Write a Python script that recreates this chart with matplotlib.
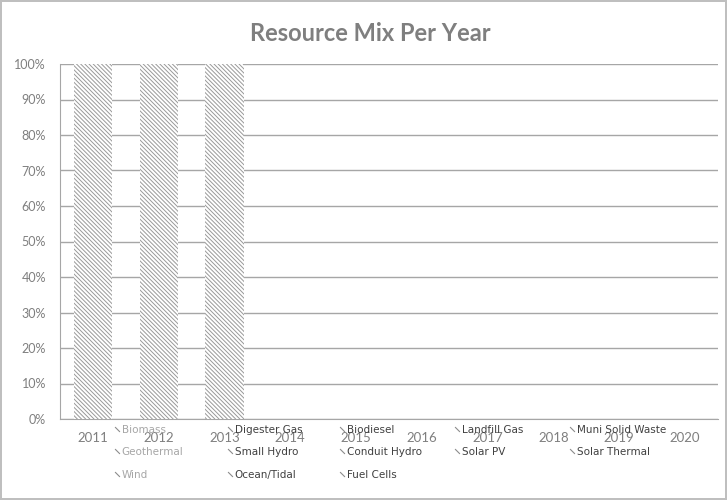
import matplotlib.pyplot as plt
import numpy as np
from matplotlib.lines import Line2D

years = ["2011", "2012", "2013", "2014", "2015", "2016", "2017", "2018", "2019", "2020"]
resources = ["Biomass", "Digester Gas", "Biodiesel", "Landfill Gas", "Muni Solid Waste",
             "Geothermal", "Small Hydro", "Conduit Hydro", "Solar PV", "Solar Thermal",
             "Wind", "Ocean/Tidal", "Fuel Cells"]
# share of each resource per year (%); only 2011-2013 reported
biomass = [0, 0, 0, 0, 0, 0, 0, 0, 0, 0]
digester_gas = [0, 0, 0, 0, 0, 0, 0, 0, 0, 0]
biodiesel = [0, 0, 0, 0, 0, 0, 0, 0, 0, 0]
landfill_gas = [0, 0, 0, 0, 0, 0, 0, 0, 0, 0]
muni_solid_waste = [0, 0, 0, 0, 0, 0, 0, 0, 0, 0]
geothermal = [0, 0, 0, 0, 0, 0, 0, 0, 0, 0]
small_hydro = [100, 100, 100, 0, 0, 0, 0, 0, 0, 0]
conduit_hydro = [0, 0, 0, 0, 0, 0, 0, 0, 0, 0]
solar_pv = [0, 0, 0, 0, 0, 0, 0, 0, 0, 0]
solar_thermal = [0, 0, 0, 0, 0, 0, 0, 0, 0, 0]
wind = [0, 0, 0, 0, 0, 0, 0, 0, 0, 0]
ocean_tidal = [0, 0, 0, 0, 0, 0, 0, 0, 0, 0]
fuel_cells = [0, 0, 0, 0, 0, 0, 0, 0, 0, 0]

series = [biomass, digester_gas, biodiesel, landfill_gas, muni_solid_waste,
          geothermal, small_hydro, conduit_hydro, solar_pv, solar_thermal,
          wind, ocean_tidal, fuel_cells]

plt.rcParams['font.family'] = ['Lato', 'DejaVu Sans']
plt.rcParams['hatch.linewidth'] = 0.7

fig = plt.figure(figsize=(7.27, 5.0), dpi=100)
fig.patch.set_edgecolor('#bfbfbf')
fig.patch.set_linewidth(1.5)
ax = fig.add_axes([0.0825, 0.162, 0.905, 0.71])

x = np.arange(len(years))
bottom = np.zeros(len(years))
for name, vals in zip(resources, series):
    vals = np.array(vals, dtype=float)
    ax.bar(x, vals, 0.58, bottom=bottom, color='white', hatch="\\" * 8,
           edgecolor='#999999', linewidth=0, zorder=3)
    bottom += vals

ax.set_xlim(-0.5, len(years) - 0.5)
ax.set_ylim(0, 100)
ax.set_yticks(range(0, 101, 10))
ax.set_yticklabels([f"{v}%" for v in range(0, 101, 10)], fontsize=9, color='#7f7f7f')
ax.set_xticks(x)
ax.set_xticklabels(years, fontsize=9.5, color='#7f7f7f')
ax.tick_params(length=0)
ax.tick_params(axis='y', pad=10)
ax.tick_params(axis='x', pad=9)
ax.grid(True, axis='y', color='#a6a6a6', linewidth=1, zorder=0)
for s in ['top', 'right']:
    ax.spines[s].set_visible(False)
ax.spines['left'].set_color('#a6a6a6')
ax.spines['bottom'].set_color('#a6a6a6')

fig.text(0.51, 1 - 33 / 500, "Resource Mix Per Year", fontsize=17, fontweight='bold',
         color='#7f7f7f', ha='center', va='center')

# legend entries laid out in 5 columns, 3 rows, overlapping the year labels
col_x = [114, 227, 339, 454, 569]
row_y = [430, 452, 475]
for i, name in enumerate(resources):
    r, c = divmod(i, 5)
    h = Line2D([], [], linestyle='none', marker=[(-1, 1), (1, -1)], markersize=3.5,
               markerfacecolor='none', markeredgecolor='#8c8c8c', markeredgewidth=0.8)
    tc = '#a6a6a6' if c == 0 else '#404040'
    fig.legend([h], [name], loc='center left',
               bbox_to_anchor=(col_x[c] / 727, 1 - row_y[r] / 500),
               frameon=False, prop={'family': 'DejaVu Sans', 'size': 7.5}, labelcolor=tc,
               handlelength=0.5, handletextpad=0.25,
               borderpad=0, borderaxespad=0)

fig.savefig("out.png", dpi=100)
